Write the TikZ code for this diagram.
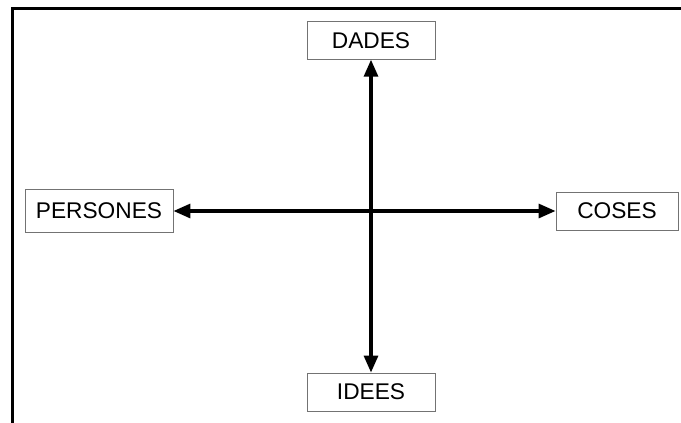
\documentclass[tikz,border=0pt]{standalone}
\usepackage{fontspec}
\setmainfont{Liberation Sans}
\usetikzlibrary{arrows.meta}
\begin{document}
\begin{tikzpicture}[x=1pt,y=-1pt,
  labelbox/.style={draw=black!55,line width=0.9pt,fill=white,inner sep=0pt,
    font=\fontsize{22.7}{25}\selectfont},
  conn/.style={line width=3.2pt,{Triangle[length=17pt,width=14pt]}-{Triangle[length=17pt,width=14pt]}}]
\useasboundingbox (0,0) rectangle (681,423);
\coordinate (f1) at (12.5,423);
\coordinate (f2) at (12.5,8.5);
\coordinate (f3) at (681,8.5);
\draw[line width=3.3pt] (f1) -- (f2) -- (f3);
\node[labelbox,minimum width=128pt,minimum height=37.5pt] (dades) at (371,40.5) {DADES};
\node[labelbox,minimum width=148pt,minimum height=43.5pt] (persones) at (99,211) {PERSONES};
\node[labelbox,minimum width=122pt,minimum height=38pt] (coses) at (617,211) {COSES};
\node[labelbox,minimum width=128pt,minimum height=38pt] (idees) at (371,392) {IDEES};
\draw[conn] (dades.south) -- (idees.north);
\draw[conn] (persones.east) -- (coses.west);
\end{tikzpicture}
\end{document}
